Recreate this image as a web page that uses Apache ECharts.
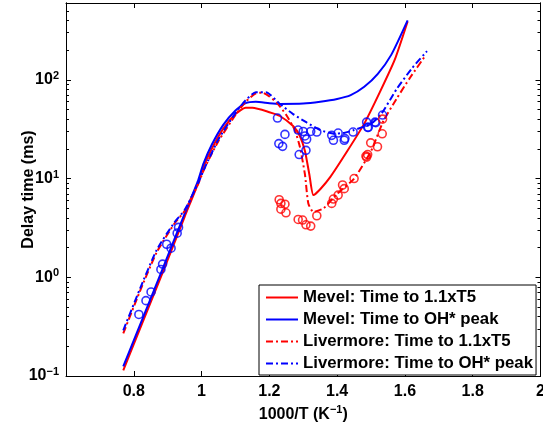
<!DOCTYPE html>
<html><head><meta charset="utf-8">
<script src="https://cdn.jsdelivr.net/npm/echarts@6/dist/echarts.min.js"></script>
<style>html,body{margin:0;padding:0;background:#fff}#c{width:543px;height:426px}</style>
</head><body><div id="c"></div>
<script>
const FONT = "'Liberation Sans', Arial, Helvetica, sans-serif";
const xTicks = [0.8, 1, 1.2, 1.4, 1.6, 1.8, 2];
const yTicks = [0.1, 1, 10, 100];
const yMinorTicks = [0.2,0.3,0.4,0.5,0.6,0.7,0.8,0.9,2,3,4,5,6,7,8,9,20,30,40,50,60,70,80,90,200,300,400,500];
const legendNames = ['Mevel: Time to 1.1xT5', 'Mevel: Time to OH* peak', 'Livermore: Time to 1.1xT5', 'Livermore: Time to OH* peak'];

// Mevel mechanism, time to 1.1 x T5 (red solid)
const mevelT5 = [[0.769,0.114],[0.80,0.21],[0.85,0.56],[0.90,1.5],[0.95,4.1],[0.99,9.0],[1.005,13],[1.03,20],[1.064,32],[1.10,45],[1.13,52],[1.15,52],[1.20,47],[1.231,43],[1.27,34],[1.29,27],[1.305,19],[1.318,11],[1.33,6.8],[1.35,7.8],[1.38,10.4],[1.43,19],[1.48,36],[1.526,75],[1.57,160],[1.608,390]];
// Mevel mechanism, time to OH* peak (blue solid)
const mevelOH = [[0.769,0.125],[0.80,0.23],[0.85,0.61],[0.90,1.64],[0.95,4.4],[0.99,9.6],[1.005,14],[1.03,22],[1.064,35],[1.10,49],[1.13,58],[1.16,60],[1.20,58],[1.23,57],[1.30,57.5],[1.35,60],[1.40,64],[1.44,70],[1.48,85],[1.52,115],[1.56,180],[1.608,400]];
// Livermore mechanism, time to 1.1 x T5 (red dash-dot)
const liverT5 = [[0.769,0.27],[0.818,0.72],[0.868,1.8],[0.92,3.5],[0.95,4.7],[0.99,8.8],[1.01,13],[1.05,24],[1.10,44],[1.13,60],[1.16,73],[1.18,74],[1.20,68],[1.221,59],[1.25,44],[1.275,31],[1.29,21],[1.305,11],[1.315,5.6],[1.33,4.6],[1.36,5.0],[1.40,7.0],[1.45,10],[1.50,19],[1.536,38],[1.575,64],[1.615,105],[1.66,175]];
// Livermore mechanism, time to OH* peak (blue dash-dot)
const liverOH = [[0.769,0.29],[0.818,0.76],[0.868,1.9],[0.92,3.6],[0.95,4.8],[0.99,9.0],[1.01,13],[1.05,25],[1.10,46],[1.13,62],[1.16,75],[1.19,75],[1.231,57],[1.27,45],[1.31,37],[1.35,31],[1.39,28.5],[1.42,29],[1.45,31],[1.50,36],[1.53,45],[1.575,80],[1.62,130],[1.665,195]];
// Experimental points, OH* peak (blue circles)
const expOH = [[0.815,0.42],[0.836,0.58],[0.851,0.71],[0.88,1.2],[0.885,1.36],[0.897,2.16],[0.91,1.97],[0.928,2.8],[0.932,3.2],[1.224,41],[1.246,28],[1.228,22.6],[1.239,21.2],[1.285,31],[1.30,30],[1.305,27],[1.31,25],[1.322,30],[1.34,29.6],[1.308,19.3],[1.288,17.5],[1.384,27.4],[1.389,24.4],[1.403,28.9],[1.421,24.4],[1.423,25.4],[1.447,29.6],[1.487,37.3],[1.492,33],[1.49,33],[1.512,37.3],[1.514,36.8],[1.534,44]];
// Experimental points, 1.1 x T5 (red circles)
const expT5 = [[1.229,6.1],[1.234,5.6],[1.246,5.5],[1.234,4.9],[1.249,4.5],[1.285,3.85],[1.298,3.8],[1.308,3.4],[1.322,3.3],[1.34,4.2],[1.384,5.6],[1.389,6.2],[1.403,6.8],[1.416,8.6],[1.421,7.9],[1.45,10],[1.485,16.9],[1.49,17.5],[1.487,16.5],[1.499,23],[1.519,21],[1.533,28.4],[1.534,40]];

const RED = '#ff0000', BLUE = '#0000ff';
const DASHDOT = [7, 3, 2, 3];
function axisLine() { return {show: true, onZero: false, lineStyle: {color: '#000', width: 1}}; }

function yLabel(v) {
  const e = Math.round(Math.log10(v));
  if (Math.abs(Math.log10(v) - e) > 1e-6) return '';
  return '{b|10}{s|' + (e < 0 ? '\u2212' + (-e) : e) + '}';
}
const richY = {
  b: {fontSize: 16, fontWeight: 'bold', fontFamily: FONT, color: '#000'},
  s: {fontSize: 11, fontWeight: 'bold', fontFamily: FONT, color: '#000', verticalAlign: 'top', padding: [0, 0, 8, 0]}
};

function yAx(pos, major, showLabel) {
  const a = {
    type: 'log', logBase: 10, min: 0.1, max: 600, position: pos,
    axisLine: axisLine(),
    axisTick: {show: true, inside: true, length: major ? 5 : 3, lineStyle: {color: '#000', width: 1}},
    axisLabel: {show: showLabel, formatter: yLabel, rich: richY, margin: 7},
    splitLine: {show: false}
  };
  if (!major) a.axisTick.customValues = yMinorTicks;
  if (showLabel) {
    a.name = 'Delay time (ms)';
    a.nameLocation = 'middle';
    a.nameGap = 29;
    a.nameMoveOverlap = false;
    a.nameTextStyle = {fontSize: 16, fontWeight: 'bold', fontFamily: FONT, color: '#000'};
  }
  return a;
}

function lineSeries(name, data, color, dashed) {
  return {
    name: name, type: 'line', data: data, xAxisIndex: 0, yAxisIndex: 0,
    symbol: 'none', showSymbol: false, smooth: 0.2, clip: true,
    lineStyle: {color: color, width: 2, type: dashed ? DASHDOT : 'solid'},
    itemStyle: {color: color}, z: 3
  };
}
function scatterSeries(name, data, color) {
  return {
    name: name, type: 'scatter', data: data, xAxisIndex: 0, yAxisIndex: 0,
    symbol: 'circle', symbolSize: 8,
    itemStyle: {color: 'rgba(255,255,255,0)', borderColor: color, borderWidth: 1.6}, z: 4
  };
}
function xLabel(v) {
  const r = Math.round(v * 10) / 10;
  return xTicks.indexOf(r) >= 0 ? String(r) : '';
}

const chart = echarts.init(document.getElementById('c'), null, {renderer: 'canvas'});
chart.setOption({
  animation: false,
  backgroundColor: '#fff',
  grid: {left: 66, right: 2.5, top: 3, bottom: 50, containLabel: false, outerBoundsMode: 'none'},
  legend: {
    data: legendNames, orient: 'vertical', left: 259, top: 285,
    backgroundColor: '#fff', borderColor: '#000', borderWidth: 1,
    padding: [4, 3, 3, 6], itemWidth: 32, itemHeight: 16, itemGap: 5,
    itemStyle: {color: 'rgba(0,0,0,0)', borderWidth: 0, opacity: 0},
    textStyle: {fontSize: 16.8, fontWeight: 'bold', fontFamily: FONT, color: '#000'}
  },
  xAxis: [
    {type: 'value', min: 0.6, max: 2, interval: 0.2, position: 'bottom', axisLine: axisLine(),
     axisTick: {show: true, inside: true, length: 5, lineStyle: {color: '#000', width: 1}},
     axisLabel: {formatter: xLabel, fontSize: 16, fontWeight: 'bold', fontFamily: FONT, color: '#000', margin: 8},
     splitLine: {show: false},
     name: '1000/T (K{s|\u22121})', nameLocation: 'middle', nameGap: 26,
     nameTextStyle: {fontSize: 16, fontWeight: 'bold', fontFamily: FONT, color: '#000', rich: {s: {fontSize: 11, fontWeight: 'bold', fontFamily: FONT, color: '#000', verticalAlign: 'top', padding: [0, 0, 8, 0]}}}},
    {type: 'value', min: 0.6, max: 2, interval: 0.2, position: 'top', axisLine: axisLine(),
     axisTick: {show: true, inside: true, length: 5, lineStyle: {color: '#000', width: 1}},
     axisLabel: {show: false}, splitLine: {show: false}}
  ],
  yAxis: [yAx('left', true, true), yAx('right', true, false), yAx('left', false, false), yAx('right', false, false)],
  series: [
    lineSeries(legendNames[0], mevelT5, RED, false),
    lineSeries(legendNames[1], mevelOH, BLUE, false),
    lineSeries(legendNames[2], liverT5, RED, true),
    lineSeries(legendNames[3], liverOH, BLUE, true),
    scatterSeries('Exp OH*', expOH, BLUE),
    scatterSeries('Exp T5', expT5, RED)
  ]
});
</script></body></html>
